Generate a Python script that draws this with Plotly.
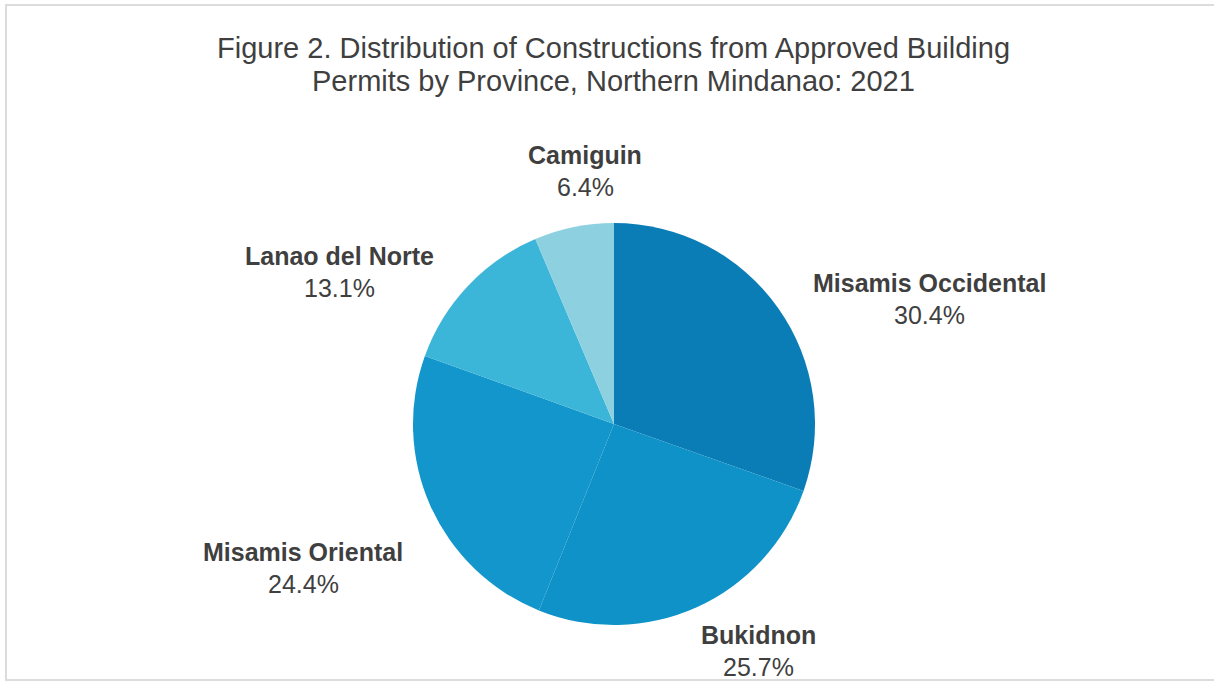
import plotly.graph_objects as go

# Data
provinces = ["Misamis Occidental", "Bukidnon", "Misamis Oriental", "Lanao del Norte", "Camiguin"]
shares = [30.4, 25.7, 24.4, 13.1, 6.4]
colors = ["#0B7DB6", "#0E92C8", "#1296CB", "#3BB5D8", "#8DD0E0"]

# label block centres in pixels (layout config)
label_pos = [(929, 299), (758, 651), (303, 568), (339, 272), (585, 171)]

W, H = 1214, 684
cx, cy, R = 614, 424, 201

fig = go.Figure(go.Pie(
    labels=provinces, values=shares, sort=False, direction="clockwise",
    rotation=0, marker=dict(colors=colors, line=dict(width=0)),
    textinfo="none", hoverinfo="label+percent", showlegend=False,
    domain=dict(x=[(cx - R) / W, (cx + R) / W], y=[(H - cy - R) / H, (H - cy + R) / H]),
))

font = "Liberation Sans, Arial, sans-serif"
txtcol = "#3f3f3f"
anns = []
for name, val, (px, py) in zip(provinces, shares, label_pos):
    anns.append(dict(x=px / W, y=1 - (py - 16) / H, xref="paper", yref="paper",
                     text="<b>%s</b>" % name, showarrow=False, xanchor="center", yanchor="middle",
                     font=dict(family=font, size=25, color=txtcol)))
    anns.append(dict(x=px / W, y=1 - (py + 16) / H, xref="paper", yref="paper",
                     text="%.1f%%" % val, showarrow=False, xanchor="center", yanchor="middle",
                     font=dict(family=font, size=25, color=txtcol)))

title_lines = ["Figure 2. Distribution of Constructions from Approved Building",
               "Permits by Province, Northern Mindanao: 2021"]
for i, t in enumerate(title_lines):
    anns.append(dict(x=613 / W, y=1 - (48 + 33 * i) / H, xref="paper", yref="paper",
                     text=t, showarrow=False, xanchor="center", yanchor="middle",
                     font=dict(family=font, size=29, color=txtcol)))

fig.update_layout(
    width=W, height=H, margin=dict(l=0, r=0, t=0, b=0),
    paper_bgcolor="white", plot_bgcolor="white",
    annotations=anns,
    shapes=[dict(type="rect", xref="paper", yref="paper", x0=6 / W, x1=1.01, y0=1 - 680 / H, y1=1 - 5 / H,
                 line=dict(color="#dcdcdc", width=2))],
)

fig.write_html("out.html")
